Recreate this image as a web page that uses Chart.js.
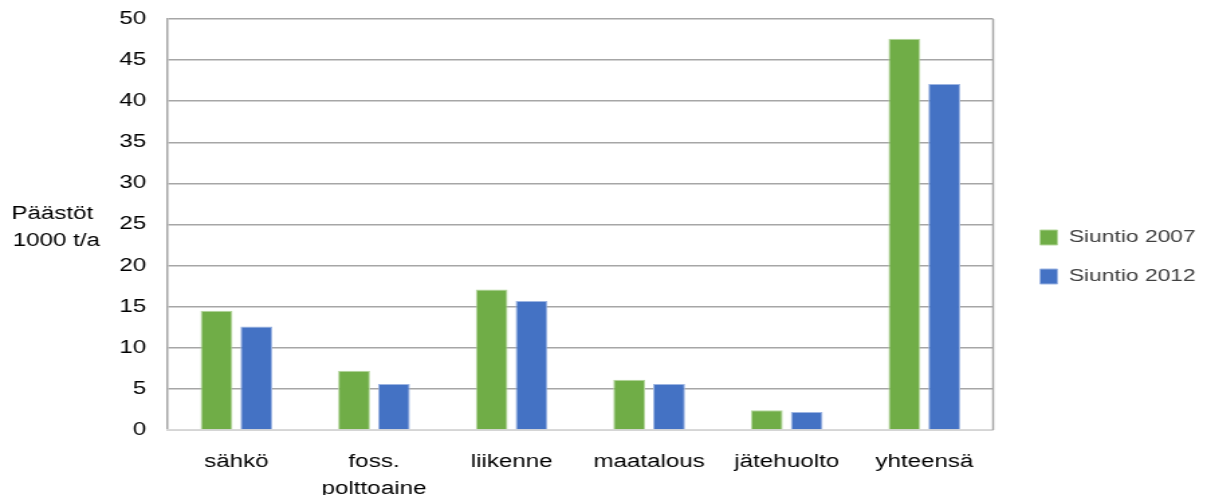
<!DOCTYPE html>
<html>
<head>
<meta charset="utf-8">
<script src="https://cdn.jsdelivr.net/npm/chart.js@4.4.0/dist/chart.umd.min.js"></script>
<style>
  html, body { margin: 0; padding: 0; background: #fff; overflow: hidden; }
  /* the original picture is stretched sideways, so draw narrow and widen with CSS */
  #chart { display: block; }
</style>
</head>
<body>
<canvas id="chart" width="900" height="495" style="width:1207px;height:495px"></canvas>
<script>
// values (1000 t/a)
const categories = ['sähkö', ['foss.', 'polttoaine'], 'liikenne', 'maatalous', 'jätehuolto', 'yhteensä'];
const seriesNames = ['Siuntio 2007', 'Siuntio 2012'];
const values2007 = [14.5, 7.2, 17.1, 6.1, 2.4, 47.6];
const values2012 = [12.6, 5.6, 15.7, 5.6, 2.2, 42.1];
const yTitle = ['Päästöt', '1000 t/a'];

const FONT = '"Liberation Sans", Arial, sans-serif';

// horizontal y title, right frame line, legend width / nudge
const extras = {
    id: 'extras',
    beforeLayout(chart) {
        const leg = chart.legend;
        if (leg && !leg._fixedFit) {
            const fit = leg.fit.bind(leg);
            leg.fit = function () { fit(); this.width = 159.5; };
            leg._fixedFit = true;
        }
    },
    afterLayout(chart) {
        // legend boxes sit a bit further from the plot than the padding gives
        chart.legend.left = chart.chartArea.right + 13;
    },
    afterDraw(chart) {
        const ctx = chart.ctx;
        const area = chart.chartArea;
        ctx.save();
        ctx.strokeStyle = '#a6a6a6';
        ctx.lineWidth = 1.5;
        ctx.beginPath();
        ctx.moveTo(area.right, area.top);
        ctx.lineTo(area.right, area.bottom);
        ctx.stroke();

        ctx.fillStyle = '#000';
        ctx.font = '18px ' + FONT;
        ctx.textAlign = 'center';
        ctx.textBaseline = 'middle';
        ctx.fillText(yTitle[0], 39, 214);
        ctx.fillText(yTitle[1], 42, 241);
        ctx.restore();
    }
};

new Chart(document.getElementById('chart'), {
    type: 'bar',
    data: {
        labels: categories,
        datasets: [{
            label: seriesNames[0],
            data: values2007,
            backgroundColor: '#70ad47',
            borderColor: '#b4d69c',
            borderWidth: 1,
        }, {
            label: seriesNames[1],
            data: values2012,
            backgroundColor: '#4472c4',
            borderColor: '#9db5e2',
            borderWidth: 1,
        }],
    },
    options: {
        responsive: false,
        animation: false,
        devicePixelRatio: 1,
        layout: { padding: { left: 0, top: 19, bottom: 0, right: 0 } },
        datasets: {
            bar: { barPercentage: 0.8, categoryPercentage: 0.58 }
        },
        plugins: {
            legend: {
                position: 'right',
                labels: {
                    boxWidth: 13,
                    boxHeight: 15,
                    padding: 22,
                    color: '#404040',
                    font: { family: FONT, size: 17 }
                }
            },
            tooltip: { enabled: false }
        },
        scales: {
            y: {
                min: 0,
                max: 50,
                afterFit(scale) { scale.width = 125; scale.paddingTop = 0; },
                ticks: {
                    stepSize: 5,
                    padding: 16,
                    color: '#000',
                    font: { family: FONT, size: 18 }
                },
                grid: { color: '#a6a6a6', lineWidth: 1.5, drawTicks: false },
                border: { display: true, color: '#a6a6a6', width: 1.5 }
            },
            x: {
                afterFit(scale) { scale.height = 65; scale.paddingTop = 0; },
                ticks: {
                    padding: 11,
                    color: '#000',
                    maxRotation: 0,
                    autoSkip: false,
                    font: { family: FONT, size: 18, lineHeight: 1.5 }
                },
                grid: { display: false },
                border: { display: true, color: '#d9d9d9', width: 1.5 }
            }
        }
    },
    plugins: [extras]
});
</script>
</body>
</html>
